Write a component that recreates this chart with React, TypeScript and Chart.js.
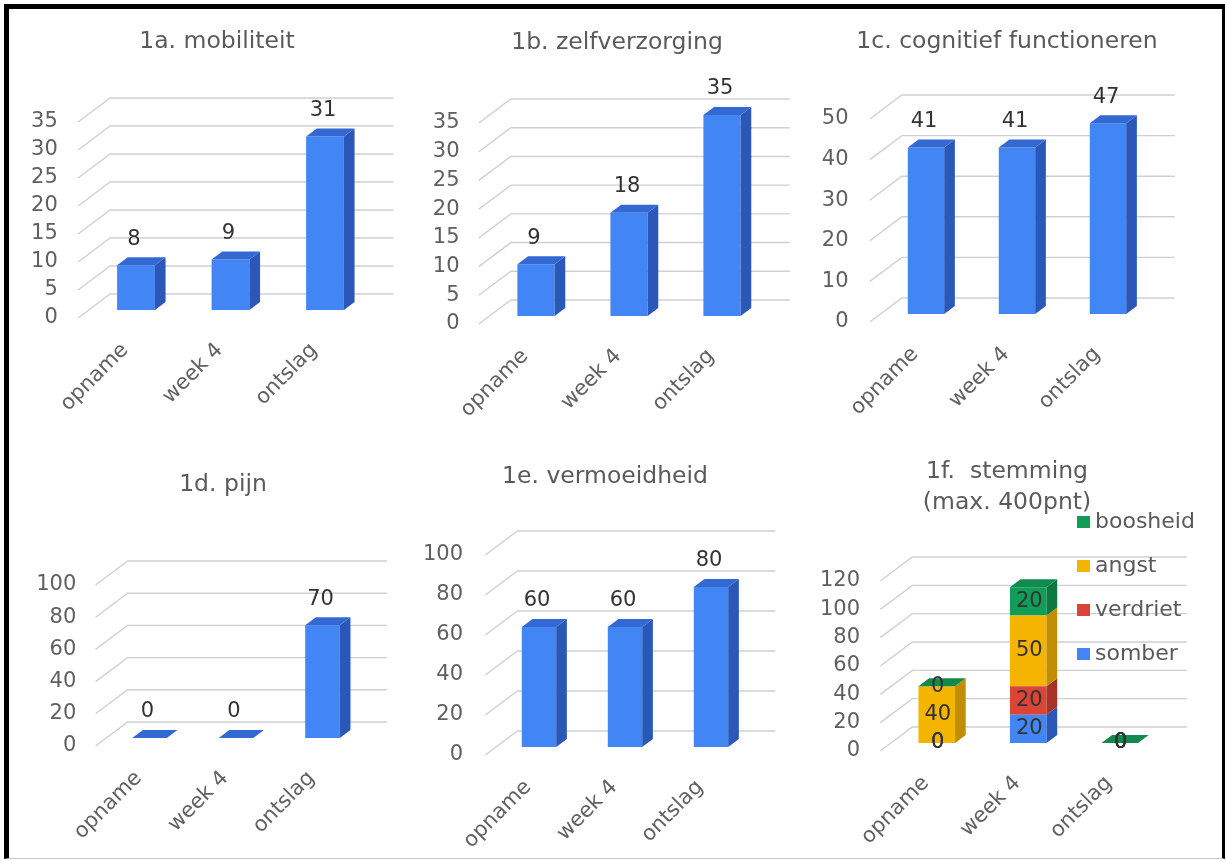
import React, { useEffect, useRef } from 'react';
import { Chart, registerables } from 'chart.js';

Chart.register(...registerables);

// ---------- data ----------
const categories = ['opname', 'week 4', 'ontslag'];
const mobiliteit = [8, 9, 31];
const zelfverzorging = [9, 18, 35];
const cognitief = [41, 41, 47];
const pijn = [0, 0, 70];
const vermoeidheid = [60, 60, 80];
const somber = [0, 20, 0];
const verdriet = [0, 20, 0];
const angst = [40, 50, 0];
const boosheid = [0, 20, 0];

const titles: (string | string[])[] = [
  '1a. mobiliteit',
  '1b. zelfverzorging',
  '1c. cognitief functioneren',
  '1d. pijn',
  '1e. vermoeidheid',
  ['1f.  stemming', '(max. 400pnt)'],
];
const yMax = [35, 35, 50, 100, 100, 120];
const yStep = [5, 5, 10, 20, 20, 20];

// ---------- styles ----------
const FONT = '"DejaVu Sans", "Liberation Sans", Arial, sans-serif';
const BLUE = { front: '#4285f4', side: '#2b57b8', top: '#3469d4' };
const RED = { front: '#db4437', side: '#a83226', top: '#c23b2f' };
const YELLOW = { front: '#f4b400', side: '#c08e00', top: '#dba200' };
const GREEN = { front: '#0f9d58', side: '#0b7842', top: '#128a4d' };
const DX = 32;
const DY = 24;

// layout of each panel (page coordinates): canvas left/top/height, plot area, title centre, tick padding
const panels = [
  { cl: 22, ct: 10, ch: 420, l: 88.75, r: 372.25, t: 114, b: 310, tx: 217, ty: 42, tp: 31 },
  { cl: 424, ct: 10, ch: 420, l: 489.5, r: 768.5, t: 115, b: 316, tx: 617, ty: 43, tp: 30 },
  { cl: 817, ct: 10, ch: 420, l: 880.5, r: 1153.5, t: 111, b: 314, tx: 1007, ty: 42, tp: 32 },
  { cl: 29, ct: 430, ch: 427, l: 106.25, r: 365.75, t: 577, b: 738, tx: 223, ty: 485, tp: 30 },
  { cl: 417, ct: 430, ch: 427, l: 496, r: 754, t: 547, b: 747, tx: 605, ty: 477, tp: 33 },
  { cl: 812, ct: 430, ch: 427, l: 891, r: 1165.5, t: 573, b: 743, tx: 1007, ty: 472, tp: 31 },
];

// ---------- plugins ----------
const bar3d = {
  id: 'bar3d',
  beforeDatasetsDraw(chart: any) {
    const { ctx, chartArea, scales } = chart;
    const ys = scales.y;
    ctx.save();
    ctx.strokeStyle = '#d0d0d0';
    ctx.lineWidth = 1.4;
    ys.ticks.forEach((t: any) => {
      const py = ys.getPixelForValue(t.value);
      ctx.beginPath();
      ctx.moveTo(chartArea.left - DX / 3, py + DY / 3);
      ctx.lineTo(chartArea.left + (2 * DX) / 3, py - (2 * DY) / 3);
      ctx.lineTo(chartArea.right + (2 * DX) / 3, py - (2 * DY) / 3);
      ctx.stroke();
    });
    ctx.restore();
  },
  afterDatasetsDraw(chart: any, _args: any, opts: any) {
    const { ctx } = chart;
    const bd = DX / 3;
    const bh = DY / 3;
    const metas = chart.data.datasets.map((_d: any, i: number) => chart.getDatasetMeta(i));
    ctx.save();
    metas.forEach((meta: any, di: number) => {
      meta.data.forEach((bar: any) => {
        const p = bar.getProps(['x', 'y', 'base', 'width'], true);
        const x1 = p.x + p.width / 2;
        const top = Math.min(p.y, p.base);
        const bot = Math.max(p.y, p.base);
        if (bot - top > 0.5) {
          ctx.fillStyle = opts.side[di];
          ctx.beginPath();
          ctx.moveTo(x1, top);
          ctx.lineTo(x1 + bd, top - bh);
          ctx.lineTo(x1 + bd, bot - bh);
          ctx.lineTo(x1, bot);
          ctx.closePath();
          ctx.fill();
        }
      });
    });
    const last = metas.length - 1;
    metas[last].data.forEach((bar: any) => {
      const p = bar.getProps(['x', 'y', 'base', 'width'], true);
      const x0 = p.x - p.width / 2;
      const x1 = p.x + p.width / 2;
      const top = Math.min(p.y, p.base);
      ctx.fillStyle = opts.top[last];
      ctx.beginPath();
      ctx.moveTo(x0, top);
      ctx.lineTo(x1, top);
      ctx.lineTo(x1 + bd, top - bh);
      ctx.lineTo(x0 + bd, top - bh);
      ctx.closePath();
      ctx.fill();
    });
    ctx.restore();
  },
};

const valueLabels = {
  id: 'valueLabels',
  afterDatasetsDraw(chart: any, _args: any, opts: any) {
    const { ctx } = chart;
    ctx.save();
    ctx.font = `21px ${FONT}`;
    ctx.fillStyle = '#333333';
    ctx.textAlign = 'center';
    ctx.textBaseline = 'middle';
    chart.data.datasets.forEach((ds: any, di: number) => {
      const meta = chart.getDatasetMeta(di);
      meta.data.forEach((bar: any, i: number) => {
        const p = bar.getProps(['x', 'y', 'base'], true);
        const ly = opts.inside ? (p.y + p.base) / 2 : Math.min(p.y, p.base) - 26;
        ctx.fillText(String(ds.data[i]), p.x + opts.dx, ly);
      });
    });
    ctx.restore();
  },
};

const sideLegend = {
  id: 'sideLegend',
  afterDraw(chart: any, _args: any, opts: any) {
    if (!opts.show) return;
    const { ctx } = chart;
    const items = chart.data.datasets
      .map((d: any) => ({ label: d.label, color: d.backgroundColor }))
      .reverse();
    ctx.save();
    ctx.font = `22px ${FONT}`;
    ctx.textAlign = 'left';
    ctx.textBaseline = 'middle';
    items.forEach((it: any, k: number) => {
      const cy = opts.y + k * opts.gap;
      ctx.fillStyle = it.color;
      ctx.fillRect(opts.x, cy - 6, 13, 12);
      ctx.fillStyle = '#5a5a5a';
      ctx.fillText(it.label, opts.x + 18, cy);
    });
    ctx.restore();
  },
};

function buildDatasets(idx: number) {
  const single = (data: number[], label: string) => [
    { label, data, backgroundColor: BLUE.front, barPercentage: 0.4, categoryPercentage: 1 },
  ];
  switch (idx) {
    case 0: return single(mobiliteit, 'mobiliteit');
    case 1: return single(zelfverzorging, 'zelfverzorging');
    case 2: return single(cognitief, 'cognitief functioneren');
    case 3: return single(pijn, 'pijn');
    case 4: return single(vermoeidheid, 'vermoeidheid');
    default:
      return [
        { label: 'somber', data: somber, backgroundColor: BLUE.front },
        { label: 'verdriet', data: verdriet, backgroundColor: RED.front },
        { label: 'angst', data: angst, backgroundColor: YELLOW.front },
        { label: 'boosheid', data: boosheid, backgroundColor: GREEN.front },
      ].map((d) => ({ ...d, barPercentage: 0.4, categoryPercentage: 1 }));
  }
}

function Panel({ idx }: { idx: number }) {
  const ref = useRef<HTMLCanvasElement | null>(null);
  const P = panels[idx];
  const cw = Math.round(2 * (P.tx - P.cl));
  useEffect(() => {
    if (!ref.current) return;
    const stacked = idx === 5;
    const title = titles[idx];
    const lines = Array.isArray(title) ? title.length : 1;
    const tSize = 23.5;
    const tLH = lines > 1 ? 1.32 : 1.2;
    const lh = tSize * tLH;
    const yWidth = P.l - P.cl;
    const rWidth = P.cl + cw - P.r;
    const tPadTop = P.ty - P.ct - lh / 2;
    const tPadBottom = P.t - P.ct - tPadTop - lh * lines;
    const xHeight = P.ct + P.ch - P.b;
    const sets = [BLUE, RED, YELLOW, GREEN];
    const chart = new Chart(ref.current, {
      type: 'bar',
      data: { labels: categories, datasets: buildDatasets(idx) as any },
      plugins: [bar3d, valueLabels, sideLegend] as any,
      options: {
        responsive: false,
        animation: false,
        devicePixelRatio: 1,
        layout: { padding: 0 },
        scales: {
          x: {
            stacked,
            offset: true,
            grid: { display: false, drawTicks: false },
            border: { display: false },
            ticks: {
              autoSkip: false,
              minRotation: 45,
              maxRotation: 45,
              padding: 28,
              labelOffset: -11,
              color: '#606060',
              font: { family: FONT, size: 21 },
            },
            afterFit: (s: any) => { s.height = xHeight; },
          },
          y: {
            stacked,
            min: 0,
            max: yMax[idx],
            grid: { display: false, drawTicks: false },
            border: { display: false },
            ticks: {
              autoSkip: false,
              stepSize: yStep[idx],
              padding: P.tp,
              labelOffset: DY / 3,
              color: '#606060',
              font: { family: FONT, size: 21 },
            },
            afterFit: (s: any) => { s.width = yWidth; },
          },
          yR: {
            type: 'linear',
            position: 'right',
            display: true,
            grid: { display: false, drawTicks: false },
            border: { display: false },
            ticks: { display: false },
            afterFit: (s: any) => { s.width = rWidth; },
          },
        },
        plugins: {
          legend: { display: false },
          tooltip: { enabled: false },
          title: {
            display: true,
            text: title as any,
            color: '#5a5a5a',
            font: { family: FONT, size: tSize, weight: 'normal', lineHeight: tLH },
            padding: { top: tPadTop, bottom: tPadBottom },
          },
          bar3d: {
            side: stacked ? sets.map((s) => s.side) : [BLUE.side],
            top: stacked ? sets.map((s) => s.top) : [BLUE.top],
          },
          valueLabels: { inside: stacked, dx: stacked ? 1 : -2 },
          sideLegend: { show: stacked, x: 1077 - P.cl, y: 522 - P.ct, gap: 44 },
        } as any,
      },
    });
    return () => chart.destroy();
  }, [idx]);
  return (
    <canvas
      ref={ref}
      width={cw}
      height={P.ch}
      style={{ position: 'absolute', left: P.cl, top: P.ct, width: cw, height: P.ch }}
    />
  );
}

export default function App() {
  return (
    <div style={{ position: 'absolute', left: 0, top: 0, width: 1226, height: 861, overflow: 'hidden', background: '#fff' }}>
      <div
        style={{
          position: 'absolute', left: 4, top: 4, width: 1221, height: 855, boxSizing: 'border-box',
          borderLeft: '5px solid #000', borderTop: '5px solid #000', borderRight: '3px solid #000',
          borderBottom: '1px solid #c8c8c8',
        }}
      />
      {panels.map((_p, i) => (
        <Panel key={i} idx={i} />
      ))}
    </div>
  );
}
